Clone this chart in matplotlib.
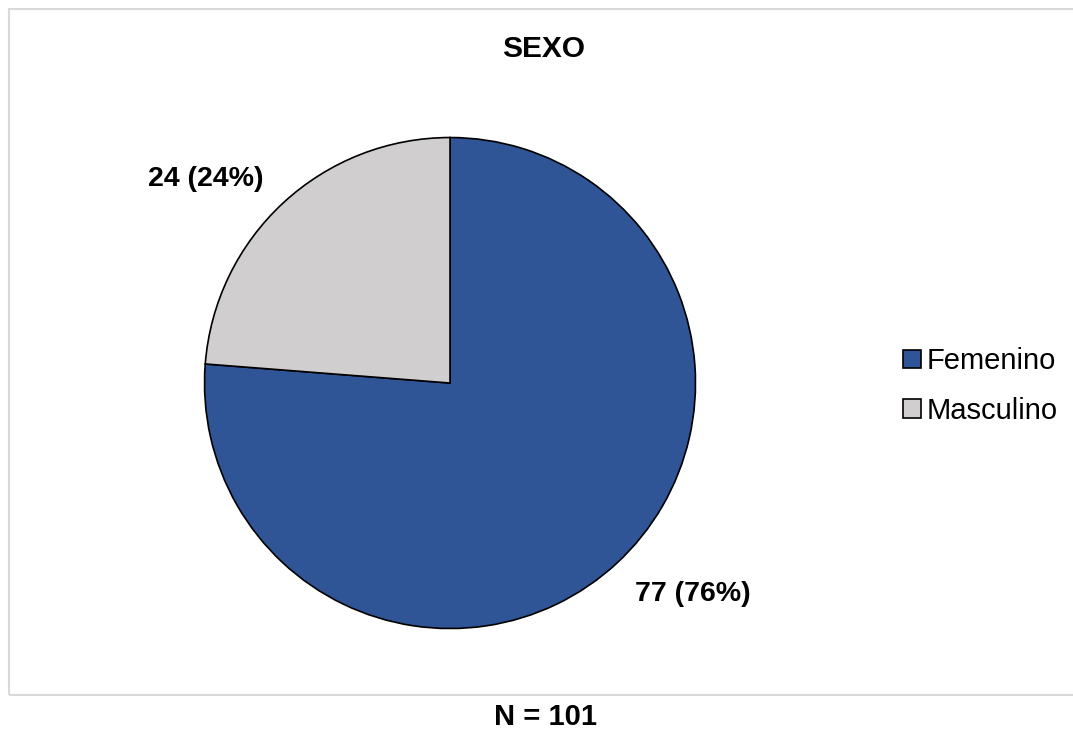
import matplotlib.pyplot as plt
from matplotlib.patches import Rectangle

plt.rcParams['font.family'] = ['Liberation Sans', 'DejaVu Sans']

categories = ["Femenino", "Masculino"]
counts = [77, 24]
colors = ["#2F5597", "#D0CECE"]

total = sum(counts)
labels = [f"{c} ({round(100 * c / total)}%)" for c in counts]

fig = plt.figure(figsize=(10.73, 7.3), dpi=100)

# chart area frame (right edge runs off the picture)
fig.patches.append(Rectangle((9 / 1073, 35 / 730), 1.1, 686 / 730,
                             transform=fig.transFigure, fill=False,
                             edgecolor="#D9D9D9", linewidth=1.5))

ax = fig.add_axes([0.4194 - 0.2288, 0.4753 - 0.3363, 0.4576, 0.6726])
wedges, _ = ax.pie(counts, colors=colors, startangle=90, counterclock=False,
                   radius=1, wedgeprops=dict(edgecolor="black", linewidth=1.2))
ax.set_xlim(-1, 1)
ax.set_ylim(-1, 1)
ax.set_aspect("auto")

# data labels
ax.text(0.99, -0.86, labels[0], ha="center", va="center",
        fontsize=20.5, fontweight="bold")
ax.text(-0.996, 0.83, labels[1], ha="center", va="center",
        fontsize=20.5, fontweight="bold")

fig.text(544 / 1073, 1 - 49 / 730, "SEXO", ha="center", va="center",
         fontsize=21.5, fontweight="bold")
fig.text(546 / 1073, 1 - 717 / 730, f"N = {total}", ha="center", va="center",
         fontsize=21, fontweight="bold")

fig.legend(wedges, categories, loc="center left",
           bbox_to_anchor=(877 / 1073, 1 - 386 / 730), frameon=False,
           fontsize=21, handlelength=0.6, handleheight=0.6, handletextpad=0.2,
           labelspacing=0.75)
for h in fig.legends[0].legend_handles:
    h.set_linewidth(1.2)

fig.savefig("out.png", dpi=100)
